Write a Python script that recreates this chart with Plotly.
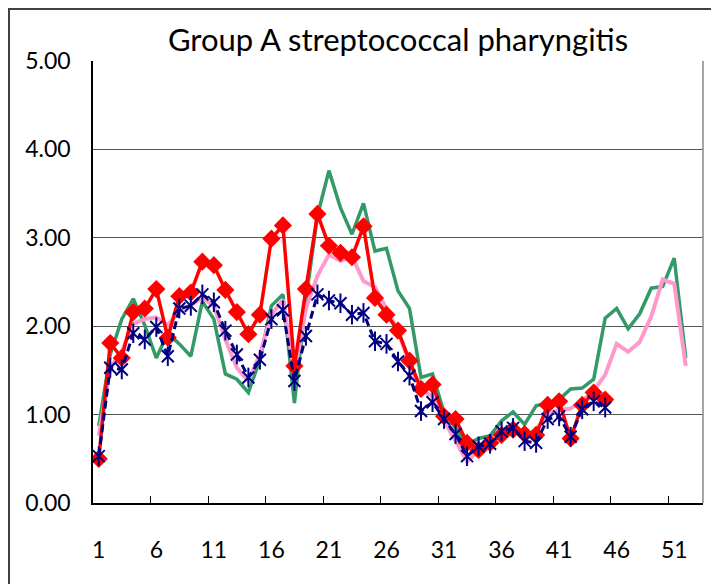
import plotly.graph_objects as go

title_text = "Group A streptococcal pharyngitis"

weeks_full = list(range(1, 53))
weeks_part = list(range(1, 46))

green_vals = [0.87, 1.68, 2.08, 2.31, 2.01, 1.64, 1.92, 1.80, 1.66, 2.28,
              2.08, 1.46, 1.40, 1.25, 1.62, 2.23, 2.36, 1.13, 2.30, 3.25,
              3.76, 3.34, 3.04, 3.39, 2.85, 2.88, 2.40, 2.20, 1.42, 1.46,
              1.02, 0.85, 0.66, 0.73, 0.76, 0.93, 1.03, 0.89, 1.10, 1.13,
              1.17, 1.29, 1.30, 1.40, 2.09, 2.20, 1.97, 2.14, 2.43, 2.45,
              2.77, 1.64]

pink_vals = [0.76, 1.53, 1.72, 2.03, 2.08, 2.10, 2.01, 2.17, 2.24, 2.32,
             2.23, 1.85, 1.53, 1.38, 1.68, 2.13, 2.30, 1.47, 2.20, 2.57,
             2.81, 2.74, 2.79, 2.51, 2.44, 2.19, 1.95, 1.57, 1.27, 1.21,
             0.93, 0.70, 0.47, 0.59, 0.64, 0.72, 0.81, 0.75, 0.83, 1.00,
             1.05, 1.07, 1.15, 1.27, 1.45, 1.80, 1.71, 1.82, 2.11, 2.53,
             2.48, 1.55]

red_vals = [0.50, 1.81, 1.64, 2.16, 2.20, 2.42, 1.87, 2.34, 2.38, 2.73,
            2.69, 2.41, 2.16, 1.91, 2.13, 2.99, 3.14, 1.55, 2.42, 3.27,
            2.91, 2.83, 2.78, 3.13, 2.32, 2.13, 1.95, 1.61, 1.29, 1.34,
            0.98, 0.95, 0.68, 0.60, 0.68, 0.77, 0.83, 0.78, 0.77, 1.11,
            1.15, 0.73, 1.11, 1.25, 1.17]

blue_vals = [0.53, 1.53, 1.51, 1.92, 1.85, 1.99, 1.66, 2.20, 2.23, 2.36,
             2.27, 1.95, 1.68, 1.42, 1.62, 2.08, 2.18, 1.38, 1.89, 2.36,
             2.29, 2.26, 2.13, 2.15, 1.83, 1.80, 1.60, 1.44, 1.04, 1.14,
             0.95, 0.78, 0.53, 0.64, 0.67, 0.81, 0.85, 0.70, 0.68, 0.95,
             0.98, 0.75, 1.06, 1.15, 1.08]

x_tick_vals = [1, 6, 11, 16, 21, 26, 31, 36, 41, 46, 51]
x_tick_text = ["1", "6", "11", "16", "21", "26", "31", "36", "41", "46", "51"]
y_tick_vals = [0, 1, 2, 3, 4, 5]
y_tick_text = ["0.00", "1.00", "2.00", "3.00", "4.00", "5.00"]
x_minor_ticks = [5.5, 10.5, 15.5, 20.5, 25.5, 30.5, 35.5, 40.5, 45.5, 50.5]

FONT = "Lato"
NAVY = "#000080"

# figure is placed at (8,8) in the page by the default body margin
W, H = 711, 576
L, T = 85, 53
PW, PH = 610, 442
R = W - L - PW
B = H - T - PH

fig = go.Figure()
fig.add_trace(go.Scatter(x=weeks_full, y=green_vals, mode="lines",
                         line=dict(color="#339966", width=3.5), showlegend=False))
fig.add_trace(go.Scatter(x=weeks_full, y=pink_vals, mode="lines",
                         line=dict(color="#ff99cc", width=4), showlegend=False))
fig.add_trace(go.Scatter(x=weeks_part, y=red_vals, mode="lines+markers",
                         line=dict(color="#ff0000", width=3.5),
                         marker=dict(symbol="diamond", size=14, color="#ff0000"),
                         showlegend=False))
fig.add_trace(go.Scatter(x=weeks_part, y=blue_vals, mode="lines+markers",
                         line=dict(color=NAVY, width=3, dash="8px,4px"),
                         marker=dict(symbol="x-thin-open", size=12, color=NAVY,
                                     line=dict(color=NAVY, width=2)),
                         showlegend=False))
fig.add_trace(go.Scatter(x=weeks_part, y=blue_vals, mode="markers",
                         marker=dict(symbol="line-ns-open", size=14, color=NAVY,
                                     line=dict(color=NAVY, width=2)),
                         showlegend=False, hoverinfo="skip"))

fig.update_layout(
    width=W, height=H,
    margin=dict(l=L, r=R, t=T, b=B, autoexpand=False),
    paper_bgcolor="white", plot_bgcolor="white",
    title=dict(text=title_text, x=0.5, xanchor="center", xref="paper",
               y=1 - 32 / H, yanchor="middle", automargin=False,
               font=dict(family=FONT, size=31, color="#000000")),
    xaxis=dict(range=[0.5, 53.5], tickmode="array", tickvals=x_tick_vals,
               ticktext=x_tick_text, ticks="", showgrid=False, zeroline=False,
               showline=True, linecolor="#000000", linewidth=1.5,
               ticklabelstandoff=26, automargin=False,
               tickfont=dict(family=FONT, size=23, color="#000000"),
               minor=dict(tickmode="array", tickvals=x_minor_ticks, ticks="inside",
                          ticklen=7, tickcolor="#000000", tickwidth=1, showgrid=False)),
    yaxis=dict(range=[0, 5], tickmode="array", tickvals=y_tick_vals,
               ticktext=y_tick_text, ticks="", showgrid=True, gridcolor="#555555",
               gridwidth=1, zeroline=False, showline=True, linecolor="#000000",
               linewidth=1.5, ticklabelstandoff=16, automargin=False,
               tickfont=dict(family=FONT, size=23, color="#000000")),
    shapes=[
        dict(type="line", xref="paper", yref="paper", x0=1, x1=1, y0=0, y1=1,
             line=dict(color="#888888", width=1.5)),
        dict(type="rect", xref="paper", yref="paper",
             x0=(1 - L) / PW, x1=(704 - L) / PW,
             y0=-0.4, y1=(T + PH - 1) / PH,
             line=dict(color="#404040", width=2), fillcolor="rgba(0,0,0,0)",
             layer="below"),
    ],
)

fig.write_html("out.html")
